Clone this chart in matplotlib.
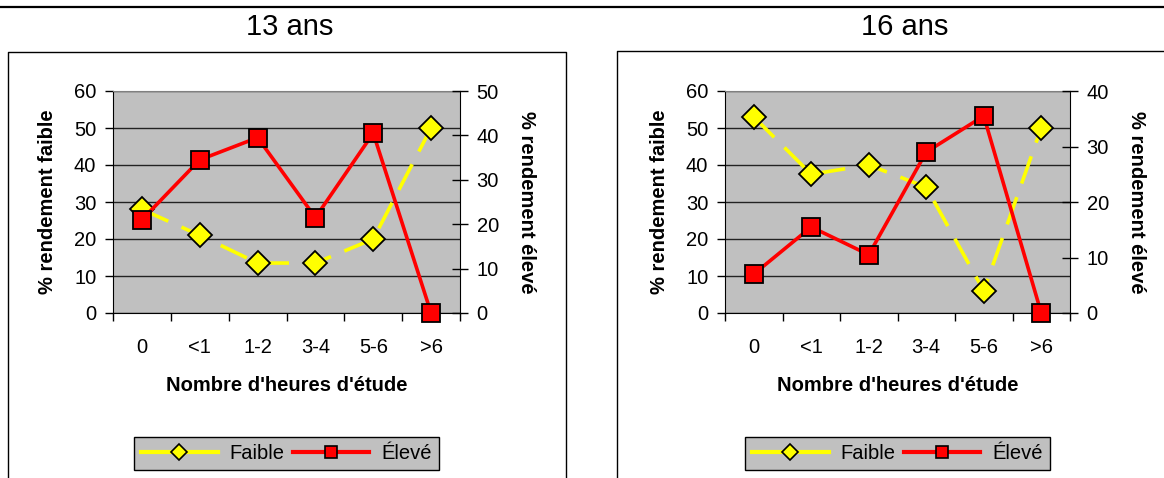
import matplotlib
matplotlib.use("Agg")
import matplotlib.pyplot as plt
from matplotlib.lines import Line2D

plt.rcParams['font.family'] = ['Liberation Sans', 'DejaVu Sans']

categories = ['0', '<1', '1-2', '3-4', '5-6', '>6']

# 13 ans
faible_13 = [28, 21, 13.5, 13.5, 20, 50]
eleve_13 = [21, 34.5, 39.5, 21.5, 40.5, 0]
# 16 ans
faible_16 = [53, 37.5, 40, 34, 6, 50]
eleve_16 = [7, 15.5, 10.5, 29, 35.5, 0]

W, H = 1164, 478
fig = plt.figure(figsize=(W / 100, H / 100), dpi=100)

GREY = '#C0C0C0'
YEL = '#FFFF00'
RED = '#FF0000'
FS = 14.5


def px(x, y):
    return x / W, 1 - y / H


def draw_panel(left_px, right_px, faible, eleve, ymax2, title, title_x, frame):
    x0, _ = px(left_px, 0)
    ax = fig.add_axes([x0, 1 - 313 / H, (right_px - left_px) / W, 222 / H])
    ax.set_facecolor(GREY)
    xs = list(range(len(categories)))

    ax.plot(xs, faible, color=YEL, lw=2.6, dashes=(8, 4), marker='D', ms=12,
            mfc=YEL, mec='black', mew=1.3, clip_on=False, zorder=3)
    ax.set_ylim(0, 60)
    ax.set_yticks(range(0, 61, 10))
    ax.set_xlim(-0.5, len(categories) - 0.5)
    ax.set_xticks(xs)
    ax.set_xticklabels(categories)
    ax.set_xticks([i - 0.5 for i in range(len(categories) + 1)], minor=True)
    ax.tick_params(axis='x', which='major', length=0, pad=18, labelsize=FS)
    ax.tick_params(axis='x', which='minor', length=6, width=1, direction='out')
    ax.tick_params(axis='y', length=6, width=1, direction='out', pad=6, labelsize=FS)
    ax.grid(axis='y', color='#222222', lw=1)
    ax.set_axisbelow(True)
    for s in ['left', 'bottom', 'right']:
        ax.spines[s].set_color('black')
    ax.spines['top'].set_color('#808080')

    ax2 = ax.twinx()
    ax2.plot(xs, eleve, color=RED, lw=2.6, marker='s', ms=13,
             mfc=RED, mec='black', mew=1.3, clip_on=False, zorder=4)
    ax2.set_ylim(0, ymax2)
    ax2.set_yticks(range(0, ymax2 + 1, 10))
    ax2.tick_params(axis='y', length=12, width=1, direction='inout', pad=6, labelsize=FS)
    for s in ax2.spines.values():
        s.set_visible(False)

    ax.text(-0.19, 0.5, '% rendement faible', transform=ax.transAxes, rotation=90,
            ha='center', va='center', fontsize=FS, fontweight='bold')
    ax.text(1.192, 0.5, '% rendement élevé', transform=ax.transAxes, rotation=-90,
            ha='center', va='center', fontsize=FS, fontweight='bold')
    ax.text(0.5, -0.325, "Nombre d'heures d'étude", transform=ax.transAxes,
            ha='center', va='center', fontsize=FS, fontweight='bold')

    tx, ty = px(title_x, 27)
    fig.text(tx, ty, title, ha='center', va='center', fontsize=21)

    fx = [px(x, y) for x, y in frame]
    fig.add_artist(Line2D([p[0] for p in fx], [p[1] for p in fx], color='black',
                          lw=1.0, transform=fig.transFigure))

    handles = [
        Line2D([], [], color=YEL, lw=3, marker='D', ms=8, mfc=YEL, mec='black', mew=1.2),
        Line2D([], [], color=RED, lw=3, marker='s', ms=8, mfc=RED, mec='black', mew=1.2),
    ]
    cx, cy = px((left_px + right_px) / 2 + 0, 453.5)
    leg = fig.legend(handles, ['Faible', 'Élevé'], loc='center',
                     bbox_to_anchor=(cx, cy), ncol=2, fontsize=FS,
                     frameon=True, fancybox=False, handlelength=3.8,
                     handletextpad=0.6, columnspacing=0.4, borderpad=0.35)
    leg.get_frame().set_facecolor(GREY)
    leg.get_frame().set_edgecolor('black')
    leg.get_frame().set_linewidth(1.0)
    leg.get_frame().set_alpha(1)


draw_panel(113, 460, faible_13, eleve_13, 50, '13 ans', 290,
           [(8, 490), (8, 52), (566, 52), (566, 490)])
draw_panel(725, 1070, faible_16, eleve_16, 40, '16 ans', 905,
           [(617, 490), (617, 51), (1170, 51)])

fig.add_artist(Line2D([0, 1], [1 - 7 / H, 1 - 7 / H], color='black', lw=1.6,
                      transform=fig.transFigure))

fig.savefig('out.png', dpi=100)
